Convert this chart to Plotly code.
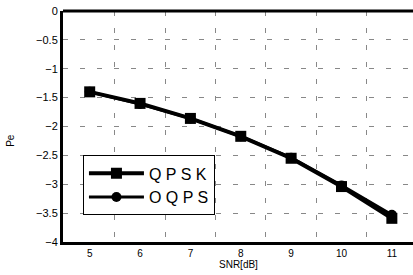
import plotly.graph_objects as go

snr = [5, 6, 7, 8, 9, 10, 11]
qpsk = [-1.40, -1.60, -1.86, -2.17, -2.55, -3.04, -3.59]
oqpsk = [-1.40, -1.61, -1.86, -2.17, -2.54, -3.02, -3.53]
y_ticks = [0, -0.5, -1, -1.5, -2, -2.5, -3, -3.5, -4]
x_ticks = [5, 6, 7, 8, 9, 10, 11]
x_grid = [5.5, 6.5, 7.5, 8.5, 9.5, 10.5]

fig = go.Figure()
fig.add_trace(go.Scatter(x=snr, y=qpsk, name="Q P S K", mode="lines+markers",
                         line=dict(color="black", width=4),
                         marker=dict(symbol="square", size=11, color="black")))
fig.add_trace(go.Scatter(x=snr, y=oqpsk, name="O Q P S", mode="lines+markers",
                         line=dict(color="black", width=3),
                         marker=dict(symbol="circle", size=10, color="black")))

grid_dash = "5px,12px"
fig.update_layout(
    width=413, height=275,
    margin=dict(l=63, r=0, t=11, b=33, autoexpand=False),
    paper_bgcolor="white", plot_bgcolor="white",
    font=dict(family="Liberation Sans, Arial", color="black", size=10),
    showlegend=True,
    legend=dict(x=0.057, y=0.375, xanchor="left", yanchor="top",
                bordercolor="black", borderwidth=1, bgcolor="white",
                font=dict(size=16), itemwidth=55, tracegroupgap=0),
    xaxis=dict(range=[4.47, 11.42], tickvals=x_ticks, showgrid=False,
               zeroline=False, showline=True, linecolor="black", linewidth=3,
               mirror=False, ticks="", tickfont=dict(size=10), automargin=False,
               minor=dict(tickvals=x_grid, showgrid=True, gridcolor="#888",
                          griddash=grid_dash, gridwidth=1, ticks="")),
    yaxis=dict(range=[-4, 0], tickvals=y_ticks, showgrid=True,
               gridcolor="#888", griddash=grid_dash, gridwidth=1,
               zeroline=False, showline=True, linecolor="black", linewidth=3,
               ticks="", tickfont=dict(size=11), automargin=False),
    annotations=[
        dict(text="SNR[dB]", xref="paper", yref="paper", x=0.5, y=-0.13,
             xanchor="center", yanchor="bottom", showarrow=False, font=dict(size=10)),
        dict(text="Pe", xref="paper", yref="paper", x=-0.15, y=0.44,
             xanchor="center", yanchor="middle", showarrow=False, textangle=-90,
             font=dict(size=10)),
    ],
)
fig.add_shape(type="line", xref="paper", yref="paper", x0=0, x1=1, y0=1, y1=1,
              line=dict(color="black", width=3))

fig.write_html("out.html", config={"displayModeBar": False},
               post_script="document.body.style.margin='0';document.body.style.padding='0';")
